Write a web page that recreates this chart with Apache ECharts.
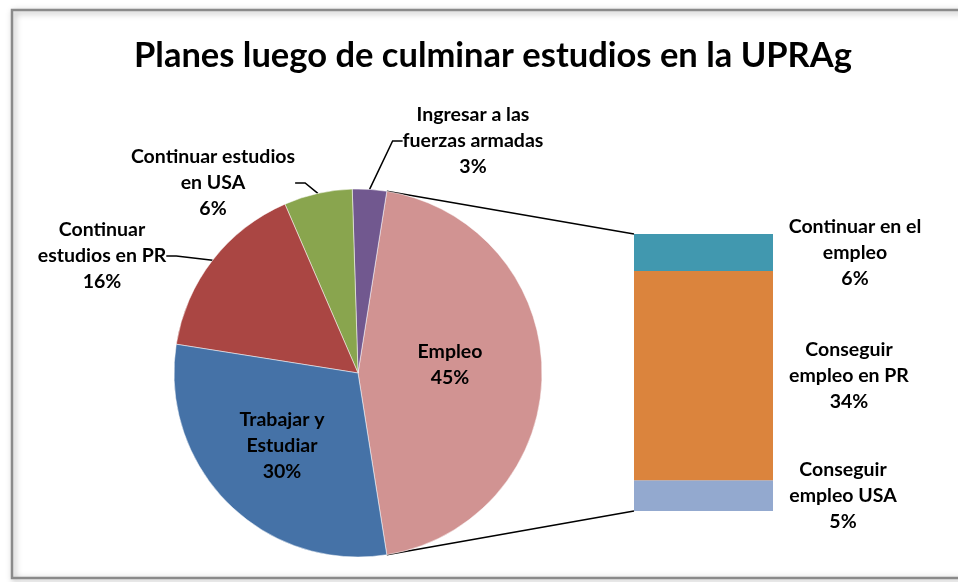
<!DOCTYPE html>
<html>
<head>
<meta charset="utf-8">
<script src="https://cdn.jsdelivr.net/npm/echarts@6/dist/echarts.min.js"></script>
<style>
  html, body { margin: 0; padding: 0; background: #fff; }
  #chart { width: 958px; height: 582px; }
</style>
</head>
<body>
<div id="chart"></div>
<script>
// pie: order goes counterclockwise from the lower right edge of "Empleo"
var pieNames = ['Empleo', 'Ingresar a las\nfuerzas armadas', 'Continuar estudios\nen USA', 'Continuar\nestudios en PR', 'Trabajar y\nEstudiar']
var pieValues = [45, 3, 6, 16, 30]
var pieColors = ['#D19392', '#71588F', '#89A54E', '#AA4643', '#4572A7']

// bar that breaks down "Empleo", from bottom to top
var barNames = ['Conseguir\nempleo USA', 'Conseguir\nempleo en PR', 'Continuar en el\nempleo']
var barValues = [5, 34, 6]
var barColors = ['#93A9CF', '#DB843D', '#4198AF']

// label centres (layout only)
var pieLabelPos = [[450, 365], [473, 141], [213, 183], [102, 256], [282, 446]]
var barLabelDist = [70, 76, 82]

var cx = 358, cy = 373, r = 184
var gridLeft = 634, gridTop = 234, gridW = 139, gridH = 277

var total = pieValues.reduce(function (a, b) { return a + b }, 0)
var half = pieValues[0] / total * 180
var font = 'Lato, "Open Sans", sans-serif'
var fs = 19.5

var chart = echarts.init(document.getElementById('chart'))

var barSeries = barValues.map(function (v, i) {
  return {
    type: 'bar',
    name: barNames[i],
    stack: 'emp',
    barWidth: '100%',
    data: [v],
    itemStyle: { color: barColors[i] },
    label: {
      show: true,
      position: 'right',
      distance: barLabelDist[i],
      align: 'center',
      verticalAlign: 'middle',
      formatter: function (p) { return p.seriesName + '\n' + p.value + '%' },
      fontFamily: font,
      fontWeight: 'bold',
      fontSize: fs,
      lineHeight: 26,
      color: '#000'
    }
  }
})

// connector lines from the Empleo slice edges to the bar corners
function edgePoint(deg) {
  var a = deg * Math.PI / 180
  return [cx + r * Math.cos(a), cy - r * Math.sin(a)]
}
var pTop = edgePoint(half), pBot = edgePoint(-half)

chart.setOption({
  animation: false,
  title: {
    text: 'Planes luego de culminar estudios en la UPRAg',
    left: 488,
    top: 33,
    textAlign: 'center',
    textStyle: { fontFamily: font, fontWeight: 'bold', fontSize: 34.5, color: '#000' }
  },
  graphic: [
    {
      type: 'rect',
      shape: { x: 12, y: 10, width: 1000, height: 568 },
      style: { fill: 'none', stroke: '#8a8a8a', lineWidth: 2.5, shadowBlur: 6, shadowColor: 'rgba(0,0,0,0.35)', shadowOffsetX: 2, shadowOffsetY: 2 },
      z: -10
    },
    {
      type: 'line',
      shape: { x1: pTop[0], y1: pTop[1], x2: gridLeft, y2: gridTop },
      style: { stroke: '#000', lineWidth: 1.5 }
    },
    {
      type: 'line',
      shape: { x1: pBot[0], y1: pBot[1], x2: gridLeft, y2: gridTop + gridH },
      style: { stroke: '#000', lineWidth: 1.5 }
    }
  ],
  grid: { left: gridLeft, top: gridTop, width: gridW, height: gridH },
  xAxis: { type: 'category', data: ['Empleo'], show: false },
  yAxis: { type: 'value', min: 0, max: pieValues[0], show: false },
  series: [
    {
      type: 'pie',
      center: [cx, cy],
      radius: r,
      startAngle: -half,
      clockwise: false,
      data: pieNames.map(function (n, i) {
        return {
          name: n,
          value: pieValues[i],
          itemStyle: { color: pieColors[i] },
          label: { position: (i === 0 || i === 4) ? 'inside' : 'outside' },
          labelLine: { show: !(i === 0 || i === 4) }
        }
      }),
      itemStyle: { borderColor: '#fff', borderWidth: 0.5 },
      label: {
        formatter: function (p) { return p.name + '\n' + p.value + '%' },
        fontFamily: font,
        fontWeight: 'bold',
        fontSize: fs,
        lineHeight: 26,
        color: '#000',
        align: 'center'
      },
      labelLine: { length: 12, length2: 10, lineStyle: { color: '#000', width: 1.5 } },
      labelLayout: function (p) {
        var pos = pieLabelPos[p.dataIndex]
        return { x: pos[0], y: pos[1], align: 'center', verticalAlign: 'middle' }
      }
    }
  ].concat(barSeries)
})
</script>
</body>
</html>
